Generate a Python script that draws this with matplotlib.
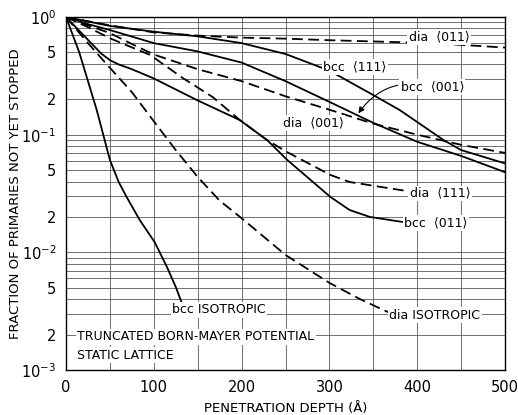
import matplotlib
matplotlib.use('Agg')
import matplotlib.pyplot as plt
from matplotlib.ticker import FixedLocator, NullFormatter

# curves (depth in angstrom, fraction not yet stopped)
dia011_x = [0, 25, 50, 100, 150, 200, 250, 300, 350, 400, 450, 500]
dia011_y = [1.0, 0.92, 0.85, 0.74, 0.695, 0.668, 0.655, 0.635, 0.62, 0.605, 0.58, 0.55]

bcc111_x = [0, 50, 100, 150, 200, 250, 300, 350, 380, 430, 450, 500]
bcc111_y = [1.0, 0.84, 0.75, 0.685, 0.60, 0.485, 0.35, 0.217, 0.162, 0.09, 0.074, 0.057]

bcc001_x = [0, 25, 50, 100, 150, 200, 250, 300, 350, 400, 450, 500]
bcc001_y = [1.0, 0.87, 0.775, 0.60, 0.51, 0.41, 0.285, 0.19, 0.126, 0.087, 0.066, 0.048]

dia001_x = [0, 25, 50, 75, 100, 150, 200, 250, 300, 350, 400, 450, 500]
dia001_y = [1.0, 0.85, 0.73, 0.59, 0.48, 0.36, 0.285, 0.212, 0.163, 0.124, 0.10, 0.082, 0.07]

dia111_x = [0, 25, 50, 96, 133, 167, 198, 229, 252, 301, 323, 395]
dia111_y = [1.0, 0.82, 0.66, 0.475, 0.303, 0.209, 0.133, 0.09, 0.071, 0.0455, 0.0396, 0.0326]

bcc011_x = [0, 20, 40, 50, 60, 73, 99, 149, 198, 229, 252, 301, 323, 346, 384]
bcc011_y = [1.0, 0.70, 0.49, 0.43, 0.395, 0.365, 0.303, 0.197, 0.133, 0.09, 0.061, 0.0296, 0.0229, 0.020, 0.0181]

bcciso_x = [0, 15, 35, 50, 60, 69, 84, 101, 115, 125, 132]
bcciso_y = [1.0, 0.504, 0.162, 0.061, 0.0396, 0.0296, 0.0188, 0.0122, 0.0075, 0.00508, 0.0037]

diaiso_x = [0, 25, 50, 75, 100, 125, 150, 175, 200, 250, 300, 335, 367]
diaiso_y = [1.0, 0.60, 0.37, 0.23, 0.13, 0.074, 0.0437, 0.0275, 0.0195, 0.0095, 0.0055, 0.004, 0.0031]

ytick_vals = [1e-3, 2e-3, 5e-3, 1e-2, 2e-2, 5e-2, 1e-1, 2e-1, 5e-1, 1.0]
ytick_labels = [r'$10^{-3}$', '2', '5', r'$10^{-2}$', '2', '5', r'$10^{-1}$', '2', '5', r'$10^{0}$']
xtick_vals = [0, 100, 200, 300, 400, 500]

fig = plt.figure(figsize=(5.18, 4.15), dpi=100)
ax = fig.add_axes([0.1274, 0.1084, 0.8476, 0.8506])

solid = dict(color='black', lw=1.3)
dashed = dict(color='black', lw=1.3, ls=(0, (6, 3)))

ax.plot(dia011_x, dia011_y, **dashed)
ax.plot(bcc111_x, bcc111_y, **solid)
ax.plot(bcc001_x, bcc001_y, **solid)
ax.plot(dia001_x, dia001_y, **dashed)
ax.plot(dia111_x, dia111_y, **dashed)
ax.plot(bcc011_x, bcc011_y, **solid)
ax.plot(bcciso_x, bcciso_y, **solid)
ax.plot(diaiso_x, diaiso_y, **dashed)

ax.set_yscale('log')
ax.set_xlim(0, 500)
ax.set_ylim(1e-3, 1)

ax.yaxis.set_major_locator(FixedLocator(ytick_vals))
ax.set_yticklabels(ytick_labels)
minor = [m * 10.0 ** e for e in (-3, -2, -1) for m in (3, 4, 6, 7, 8, 9)]
ax.yaxis.set_minor_locator(FixedLocator(minor))
ax.yaxis.set_minor_formatter(NullFormatter())
ax.set_xticks(xtick_vals)
ax.set_xticks(range(50, 500, 100), minor=True)

ax.grid(True, which='both', color='0.35', lw=0.6)
ax.tick_params(which='both', length=0, labelsize=10.5, pad=7)
for s in ax.spines.values():
    s.set_linewidth(1.0)

ax.set_xlabel('PENETRATION DEPTH (Å)', fontsize=9.5, labelpad=5)
ax.set_ylabel('FRACTION OF PRIMARIES NOT YET STOPPED', fontsize=9.5)
ax.yaxis.set_label_coords(-0.1, 0.5)

box = dict(facecolor='white', edgecolor='none', pad=1.0)
lab = dict(fontsize=9, ha='center', va='center', bbox=box)
ax.text(425, 0.676, 'dia  ⟨011⟩', **lab)
ax.text(329, 0.376, 'bcc  ⟨111⟩', **lab)
ax.text(282, 0.126, 'dia  ⟨001⟩', **lab)
ax.text(426, 0.0317, 'dia  ⟨111⟩', **lab)
ax.text(421, 0.0178, 'bcc  ⟨011⟩', **lab)
ax.text(174, 0.00324, 'bcc ISOTROPIC', **lab)
ax.text(420, 0.00292, 'dia ISOTROPIC', **lab)
ax.annotate('bcc  ⟨001⟩', xy=(333, 0.152), xytext=(381, 0.254),
            fontsize=9, ha='left', va='center', bbox=box,
            arrowprops=dict(arrowstyle='-|>', color='black', lw=0.8,
                            connectionstyle='arc3,rad=0.35', shrinkA=1, shrinkB=0))

ax.text(13, 0.00191, 'TRUNCATED BORN-MAYER POTENTIAL', fontsize=9, ha='left', va='center', bbox=box)
ax.text(13, 0.00134, 'STATIC LATTICE', fontsize=9, ha='left', va='center', bbox=box)

fig.savefig('out.png', dpi=100)
